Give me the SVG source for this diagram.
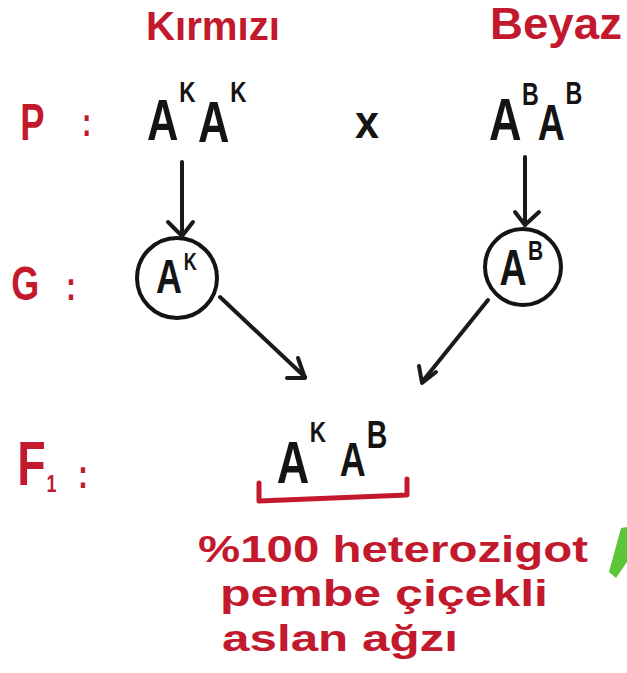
<svg xmlns="http://www.w3.org/2000/svg" width="627" height="673" viewBox="0 0 627 673">
<style>
.red{fill:#c3192d;font-family:"Liberation Sans","DejaVu Sans",sans-serif;font-weight:bold}
.blk{fill:#141414;font-family:"Liberation Sans","DejaVu Sans",sans-serif;font-weight:bold}
.desc{font-size:37px}
.ln{stroke:#1a1a1a;stroke-width:4;fill:none;stroke-linecap:round;stroke-linejoin:round}
.circ{stroke:#141414;stroke-width:4;fill:none}
</style>
<rect width="627" height="673" fill="#ffffff"/>

<g id="label-kirmizi"><text class="red" x="146" y="40" font-size="40" textLength="134" lengthAdjust="spacingAndGlyphs">Kırmızı</text></g>
<g id="label-beyaz"><text class="red" x="490" y="39" font-size="44" textLength="132" lengthAdjust="spacingAndGlyphs">Beyaz</text></g>

<g id="row-P"><text class="red" transform="scale(0.7,1)" x="29" y="140" font-size="52">P<tspan x="117" y="136" font-size="40">:</tspan></text></g>
<g id="row-G"><text class="red" transform="scale(0.75,1)" x="15" y="300" font-size="48">G<tspan x="88" y="300" font-size="40">:</tspan></text></g>
<g id="row-F1"><text class="red" transform="scale(0.75,1)" x="23" y="485" font-size="62">F<tspan x="62" y="492" font-size="24">1</tspan><tspan x="104" y="488" font-size="40">:</tspan></text></g>

<g id="parent-AKAK">
<text class="blk" transform="scale(0.75,1)" x="196" y="140" font-size="58">A<tspan x="239" y="102" font-size="30">K</tspan><tspan x="264" y="142" font-size="58">A</tspan><tspan x="307" y="102" font-size="30">K</tspan></text>
</g>

<g id="cross"><text class="blk" x="355" y="138" font-size="46" textLength="24" lengthAdjust="spacingAndGlyphs">x</text></g>

<g id="parent-ABAB">
<text class="blk" transform="scale(0.75,1)" x="652" y="140" font-size="60">A<tspan x="696" y="105" font-size="31">B</tspan><tspan x="717" y="140" font-size="50">A</tspan><tspan x="754" y="104" font-size="31">B</tspan></text>
</g>

<g id="gamete-AK">
<circle class="circ" cx="177" cy="278" r="40"/>
<text class="blk" transform="scale(0.75,1)" x="208" y="293" font-size="48">A<tspan x="245" y="270" font-size="24">K</tspan></text>
</g>

<g id="gamete-AB">
<circle class="circ" cx="523" cy="267" r="38"/>
<text class="blk" transform="scale(0.75,1)" x="666" y="285" font-size="50">A<tspan x="704" y="260" font-size="28">B</tspan></text>
</g>

<g id="offspring-AKAB">
<text class="blk" transform="scale(0.75,1)" x="369" y="483" font-size="60">A<tspan x="413" y="442" font-size="30">K</tspan><tspan x="453" y="476" font-size="48">A</tspan><tspan x="489" y="448" font-size="38">B</tspan></text>
<polyline points="259,483 259,501 407,495 407,479" fill="none" stroke="#c3192d" stroke-width="5" stroke-linecap="round" stroke-linejoin="round"/>
</g>

<g id="description">
<text class="red desc" x="198" y="562" textLength="390" lengthAdjust="spacingAndGlyphs">%100 heterozigot</text>
<text class="red desc" x="220" y="606" textLength="328" lengthAdjust="spacingAndGlyphs">pembe çiçekli</text>
<text class="red desc" x="222" y="651" textLength="236" lengthAdjust="spacingAndGlyphs">aslan ağzı</text>
</g>

<g id="connectors">
<line class="ln" x1="182" y1="162" x2="182" y2="236"/>
<polyline class="ln" points="168,222 182,236 193,222"/>
<line class="ln" x1="525" y1="157" x2="525" y2="225"/>
<polyline class="ln" points="515,212 525,225 539,212"/>
<line class="ln" x1="220" y1="297" x2="305" y2="377"/>
<polyline class="ln" points="298,358 305,378 287,378"/>
<line class="ln" x1="488" y1="300" x2="422" y2="382"/>
<polyline class="ln" points="419,366 422,383 436,372"/>
</g>

<polygon points="621,528 627,527 627,562 616,578 609,572" fill="#5bc63a"/>
</svg>
